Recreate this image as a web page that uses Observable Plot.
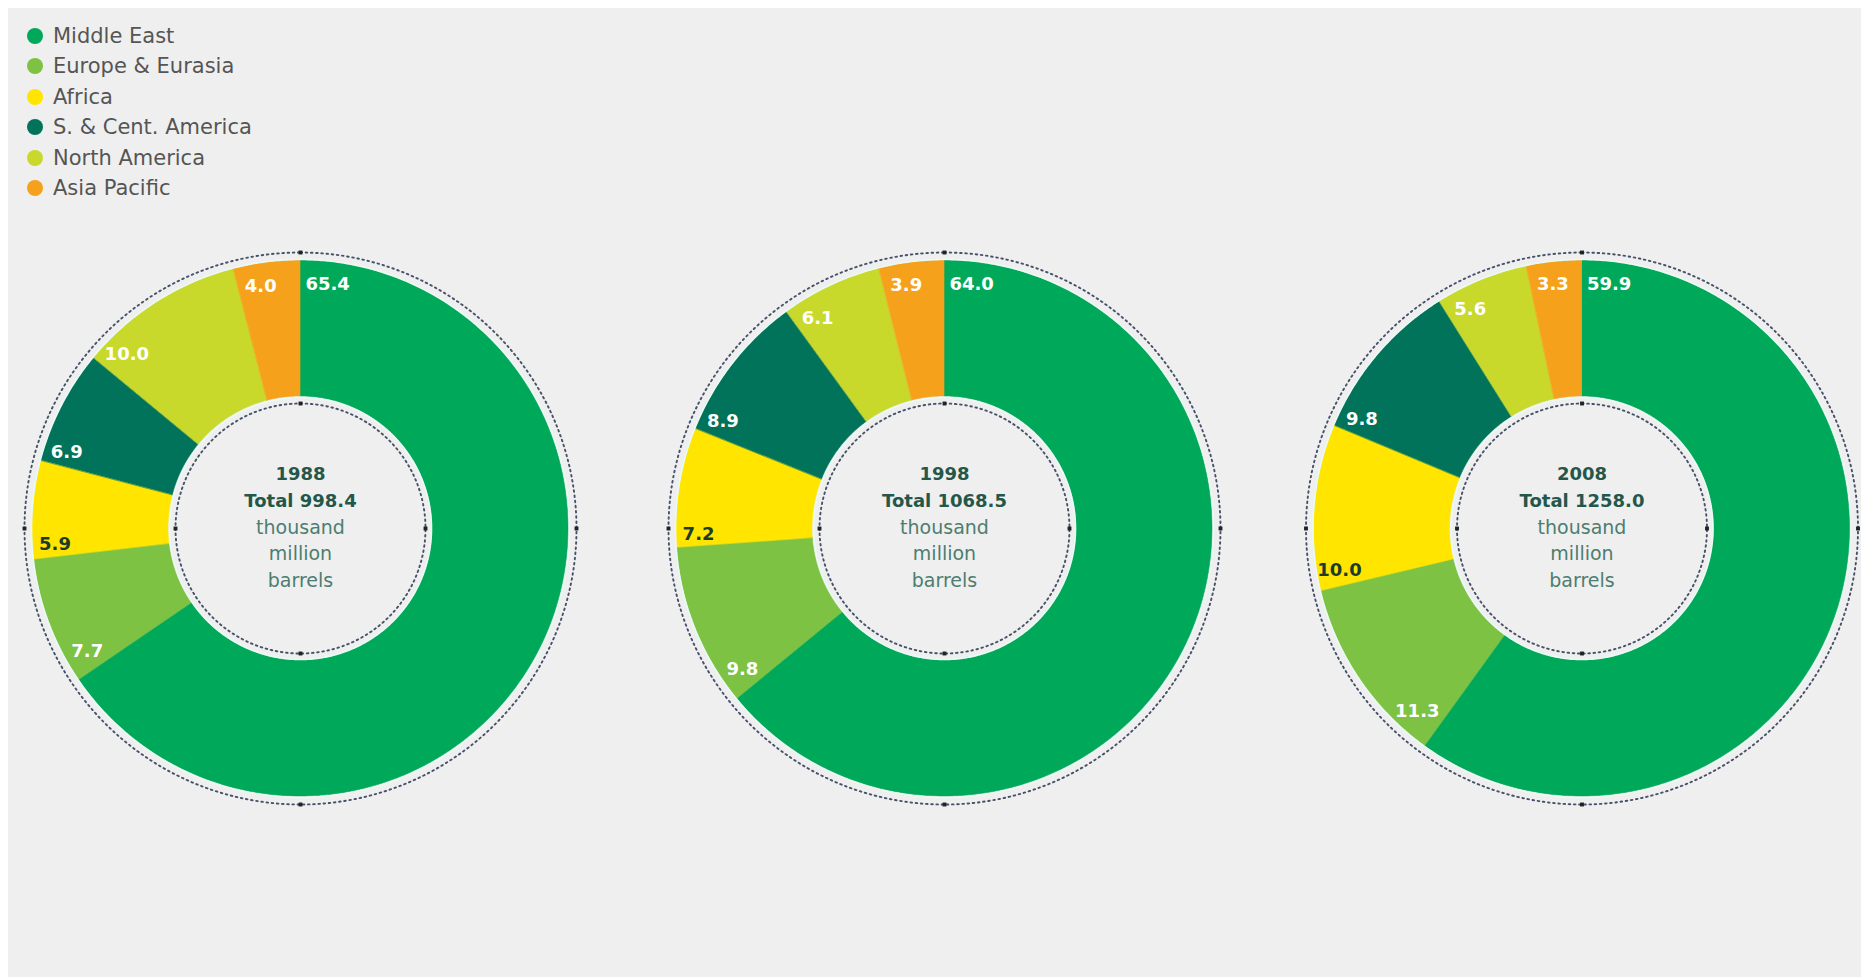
<!DOCTYPE html>
<html>
<head>
<meta charset="utf-8">
<script src="https://cdn.jsdelivr.net/npm/d3@7"></script>
<script src="https://cdn.jsdelivr.net/npm/@observablehq/plot@0.6"></script>
<style>
  html, body { margin: 0; padding: 0; background: #ffffff; }
  #wrap { position: absolute; left: 8px; top: 8px; width: 1853px; height: 969px; background: #efefef; overflow: hidden; }
  #legend { position: absolute; left: 0; top: 0; font-family: "DejaVu Sans", sans-serif; font-size: 21px; color: #555555; }
  .item { position: absolute; left: 19px; height: 30px; display: flex; align-items: center; white-space: nowrap; }
  .sw { width: 16px; height: 16px; border-radius: 50%; margin-right: 10px; flex: none; }
  #chart { position: absolute; left: 0; top: 0; }
</style>
</head>
<body>
<div id="wrap"><div id="chart"></div><div id="legend"></div></div>
<script>
// ---- data ----
const regions = ["Middle East", "Europe & Eurasia", "Africa", "S. & Cent. America", "North America", "Asia Pacific"];
const colors = ["#00a859", "#7dc242", "#ffe500", "#00735a", "#c9d92b", "#f6a11c"];
const years = ["1988", "1998", "2008"];
const totals = ["998.4", "1068.5", "1258.0"];
const share1988 = [65.4, 7.7, 5.9, 6.9, 10.0, 4.0];
const share1998 = [64.0, 9.8, 7.2, 8.9, 6.1, 3.9];
const share2008 = [59.9, 11.3, 10.0, 9.8, 5.6, 3.3];
const unitLines = ["thousand", "million", "barrels"];
const shares = [share1988, share1998, share2008];

// ---- layout ----
const W = 1853, H = 969;
const centers = [[292, H - 520], [936, H - 520], [1573.5, H - 520]]; // y-up coordinates
const R = 268, R0 = 132;          // ring outer / inner radius
const ringOut = 276, ringIn = 125; // dotted guide circles
const labelR = 246, labelSize = 18, pad = 5;

const rad = d => d * Math.PI / 180;
const px = (c, r, deg) => c[0] + r * Math.sin(rad(deg));
const py = (c, r, deg) => c[1] + r * Math.cos(rad(deg));

// slices
const arcs = [], labels = [];
shares.forEach((vals, yi) => {
  const c = centers[yi];
  const sum = d3.sum(vals);
  let acc = 0;
  vals.forEach((v, i) => {
    const a0 = acc / sum * 360, a1 = (acc + v) / sum * 360;
    acc += v;
    const n = Math.max(2, Math.ceil((a1 - a0) / 0.4) + 1);
    for (let k = 0; k < n; k++) {
      const a = a0 + (a1 - a0) * k / (n - 1);
      arcs.push({key: years[yi] + i, region: regions[i],
        x1: px(c, R, a), y1: py(c, R, a), x2: px(c, R0, a), y2: py(c, R0, a)});
    }
    // place label just clear of the slice's leading edge
    const text = v.toFixed(1);
    const w = (text.length - 1) * 0.696 * labelSize + 0.38 * labelSize, h = 12;
    const tx = Math.abs(Math.cos(rad(a0))), ty = Math.abs(Math.sin(rad(a0)));
    const d = tx * w / 2 + ty * h / 2 + pad;
    const la = a0 + Math.min(d / labelR * 180 / Math.PI, (a1 - a0) / 2);
    labels.push({x: px(c, labelR, la), y: py(c, labelR, la), text, dark: regions[i] === "Africa"});
  });
});

// guide circles
const circle = (r, tag) => centers.flatMap((c, yi) => d3.range(0, 361, 0.5).map(a => ({key: tag + yi, x: px(c, r, a), y: py(c, r, a)})));
const dotsOut = circle(ringOut, "o"), dotsIn = circle(ringIn, "i");
const halo = [...circle(R + 1, "ho"), ...circle(R0 - 1, "hi")];
const marks4 = centers.flatMap(c => [ringOut, ringIn].flatMap(r => [0, 90, 180, 270].map(a => ({x: px(c, r, a), y: py(c, r, a)}))));

// centre text
const centerText = centers.flatMap((c, yi) => {
  const lines = [years[yi], "Total " + totals[yi], ...unitLines];
  return lines.map((t, i) => ({x: c[0], y: c[1] - ((i - 2) * 26.5 - 1), text: t, bold: i < 2}));
});

const font = "DejaVu Sans, sans-serif";
const chart = Plot.plot({
  width: W, height: H, margin: 0,
  x: {domain: [0, W], axis: null},
  y: {domain: [0, H], axis: null},
  color: {domain: regions, range: colors},
  style: {background: "transparent", overflow: "visible"},
  marks: [
    Plot.area(arcs, {x1: "x1", y1: "y1", x2: "x2", y2: "y2", z: "key", fill: "region", stroke: "region", strokeWidth: 0.6}),
    Plot.line(halo, {x: "x", y: "y", z: "key", stroke: "#e9faf5", strokeWidth: 1.6}),
    Plot.line(dotsOut, {x: "x", y: "y", z: "key", stroke: "#46526a", strokeWidth: 1.9, strokeDasharray: "1.6 3.6"}),
    Plot.line(dotsIn, {x: "x", y: "y", z: "key", stroke: "#46526a", strokeWidth: 1.9, strokeDasharray: "1.6 3.6"}),
    Plot.dot(marks4, {x: "x", y: "y", symbol: "square", r: 2.2, fill: "#222"}),
    Plot.text(labels.filter(d => !d.dark), {x: "x", y: "y", text: "text", fill: "white", fontFamily: font, fontWeight: "bold", fontSize: labelSize}),
    Plot.text(labels.filter(d => d.dark), {x: "x", y: "y", text: "text", fill: "#1d3b2a", fontFamily: font, fontWeight: "bold", fontSize: labelSize}),
    Plot.text(centerText.filter(d => d.bold), {x: "x", y: "y", text: "text", fill: "#24574a", fontFamily: font, fontWeight: "bold", fontSize: 18}),
    Plot.text(centerText.filter(d => !d.bold), {x: "x", y: "y", text: "text", fill: "#4d7d70", fontFamily: font, fontSize: 19})
  ]
});
document.getElementById("chart").appendChild(chart);

// legend
const lg = d3.select("#legend");
regions.forEach((name, i) => {
  const it = lg.append("div").attr("class", "item").style("top", (13 + 30.4 * i) + "px");
  it.append("div").attr("class", "sw").style("background", colors[i]);
  it.append("span").text(name);
});
</script>
</body>
</html>
